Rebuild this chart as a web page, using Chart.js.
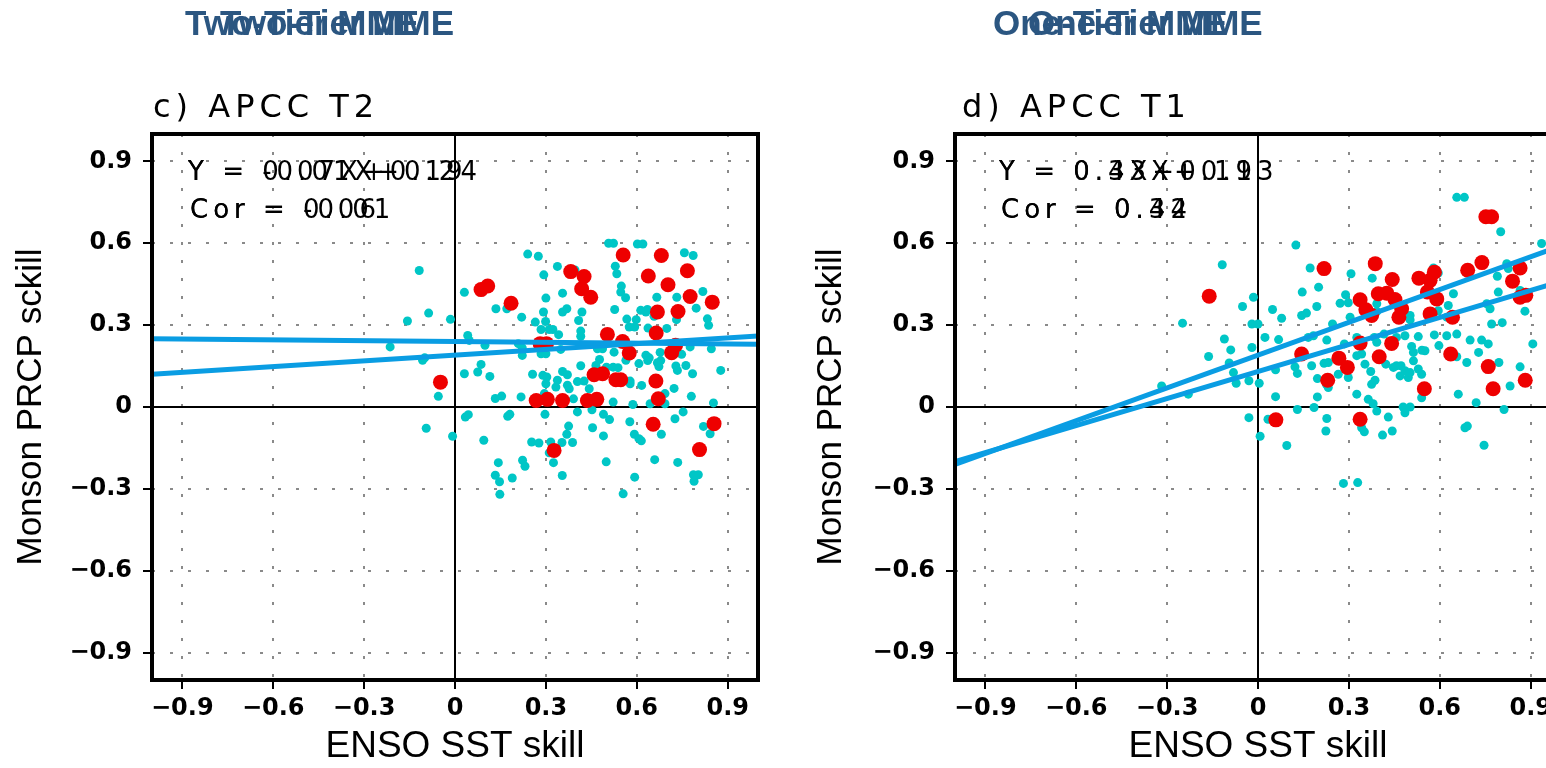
<!DOCTYPE html>
<html>
<head>
<meta charset="utf-8">
<script src="https://cdn.jsdelivr.net/npm/chart.js@4.4.0/dist/chart.umd.min.js"></script>
<style>
  html, body { margin: 0; padding: 0; background: #fff; overflow: hidden; width: 1546px; height: 768px; }
  .panel { position: absolute; top: 0; width: 800px; height: 768px; }
  #wrapC { left: 0; }
  #wrapD { left: 800px; }
</style>
</head>
<body>
<div id="wrapC" class="panel"><canvas id="chartC" width="800" height="768"></canvas></div>
<div id="wrapD" class="panel"><canvas id="chartD" width="800" height="768"></canvas></div>
<script>
// axis ticks (same on x and y)
const tickValues = [-0.9, -0.6, -0.3, 0, 0.3, 0.6, 0.9];
const tickLabels = ['\u22120.9', '\u22120.6', '\u22120.3', '0', '0.3', '0.6', '0.9'];

// c) APCC T2 : all models (cyan) and selected models (red), [ENSO SST skill, PRCP skill]
const t2Models = [
  [0.507,0.60],[0.523,0.60],[0.602,0.597],[0.62,0.597],[0.24,0.56],[0.275,0.552],[0.757,0.565],[0.786,0.555],
  [-0.118,0.50],[0.338,0.515],[0.396,0.502],[0.529,0.516],[0.534,0.488],[0.293,0.484],
  [0.031,0.42],[0.355,0.417],[0.549,0.443],[0.547,0.421],[0.563,0.40],[0.30,0.399],[0.818,0.423],[0.666,0.402],[0.732,0.402],
  [-0.087,0.344],[-0.157,0.315],[-0.015,0.321],[0.135,0.36],[0.171,0.36],[0.292,0.348],[0.355,0.348],[0.369,0.36],[0.419,0.348],
  [0.527,0.357],[0.613,0.354],[0.635,0.357],[0.63,0.348],[0.796,0.362],
  [0.22,0.329],[0.265,0.311],[0.299,0.313],[0.408,0.317],[0.567,0.322],[0.598,0.32],[0.657,0.332],[0.731,0.32],[0.833,0.323],[0.837,0.299],
  [0.575,0.293],[0.593,0.293],[0.284,0.284],[0.311,0.284],[0.323,0.284],[0.415,0.278],[0.415,0.259],[0.342,0.265],[0.637,0.289],[0.699,0.288],
  [0.042,0.262],[0.047,0.244],[-0.214,0.22],[0.099,0.226],[0.209,0.232],[0.222,0.216],[0.222,0.189],[0.284,0.195],[0.30,0.195],
  [0.349,0.211],[0.47,0.213],[0.487,0.213],[0.525,0.201],[0.63,0.19],[0.641,0.18],[0.636,0.17],[0.677,0.2],[0.679,0.17],
  [0.776,0.22],[0.846,0.213],[0.748,0.193],
  [-0.107,0.171],[-0.1,0.18],[0.086,0.156],[0.477,0.174],[0.465,0.152],[0.415,0.151],[0.5,0.146],[0.522,0.146],[0.538,0.144],
  [0.564,0.171],[0.607,0.159],[0.668,0.162],[0.673,0.148],[0.729,0.15],[0.734,0.134],[0.762,0.152],[0.784,0.122],[0.877,0.134],
  [0.031,0.122],[0.075,0.128],[0.115,0.112],[0.256,0.12],[0.29,0.116],[0.303,0.11],[0.355,0.13],[0.371,0.118],
  [0.30,0.085],[0.404,0.093],[0.426,0.095],[0.338,0.098],[0.333,0.073],[0.371,0.08],[0.377,0.067],[0.443,0.067],
  [0.578,0.095],[0.578,0.085],[0.616,0.079],[0.693,0.049],[0.723,0.068],[0.78,0.039],
  [-0.055,0.039],[0.133,0.031],[0.154,0.04],[0.218,0.037],[0.295,0.049],[0.391,0.03],[0.522,0.018],[0.587,0.009],
  [0.644,0.012],[0.693,0.012],[0.853,0.015],
  [0.034,-0.037],[0.044,-0.028],[0.174,-0.034],[0.181,-0.027],[-0.095,-0.078],[-0.008,-0.107],[0.095,-0.122],
  [0.297,-0.027],[0.404,-0.018],[0.452,-0.01],[0.49,-0.027],[0.51,-0.046],[0.577,-0.054],[0.375,-0.07],[0.369,-0.1],
  [0.454,-0.076],[0.49,-0.106],[0.592,-0.1],[0.607,-0.116],[0.615,-0.124],[0.681,-0.1],[0.726,-0.043],[0.753,-0.018],
  [0.82,-0.071],[0.842,-0.098],
  [0.253,-0.128],[0.277,-0.132],[0.316,-0.128],[0.353,-0.13],[0.388,-0.13],
  [0.311,-0.168],[0.143,-0.204],[0.223,-0.195],[0.231,-0.217],[0.325,-0.204],[0.499,-0.201],[0.659,-0.193],[0.735,-0.203],
  [0.133,-0.25],[0.147,-0.274],[0.189,-0.26],[0.354,-0.251],[0.593,-0.257],[0.787,-0.248],[0.803,-0.248],[0.789,-0.272],
  [0.148,-0.32],[0.555,-0.318]
];
const t2Selected = [
  [0.555,0.557],[0.681,0.555],[0.767,0.499],[0.382,0.496],[0.426,0.478],[0.638,0.48],[0.703,0.448],[0.086,0.43],
  [0.108,0.443],[0.418,0.433],[0.448,0.402],[0.776,0.405],[0.849,0.384],[0.185,0.38],[0.668,0.348],[0.736,0.35],
  [0.503,0.266],[0.664,0.271],[0.553,0.24],[0.281,0.232],[0.302,0.232],[0.575,0.198],[0.728,0.226],[0.715,0.199],
  [-0.048,0.091],[0.459,0.118],[0.487,0.122],[0.531,0.1],[0.547,0.1],[0.663,0.095],[0.671,0.03],[0.268,0.024],
  [0.305,0.028],[0.355,0.024],[0.437,0.024],[0.468,0.028],[0.654,-0.063],[0.855,-0.061],[0.327,-0.159],[0.807,-0.156]
];
// regression fits: [all models, selected models]
const t2Slope = [-0.01, 0.07];
const t2Intercept = [0.24, 0.19];
const t2Cor = ['-0.01', '0.06'];

// d) APCC T1
const t1Models = [
  [0.656,0.768],[0.681,0.768],[0.801,0.642],[0.936,0.599],[0.125,0.593],[-0.118,0.521],[0.172,0.509],[0.307,0.488],
  [0.377,0.472],[0.579,0.509],[0.595,0.491],[0.821,0.525],[0.826,0.507],[0.79,0.479],
  [0.2,0.439],[0.146,0.421],[0.289,0.411],[0.298,0.382],[0.144,0.335],[0.16,0.344],[-0.051,0.368],[-0.015,0.402],
  [0.078,0.325],[0.048,0.357],[0.194,0.368],[0.271,0.38],[0.304,0.329],[0.392,0.378],[0.392,0.35],[0.645,0.415],
  [0.628,0.372],[0.595,0.353],[0.502,0.335],[0.623,0.329],[0.793,0.421],[0.865,0.427],[0.881,0.351],[0.755,0.378],[0.766,0.36],
  [-0.249,0.307],[-0.02,0.304],[0.0,0.304],[0.246,0.304],[0.502,0.319],[0.771,0.304],[0.806,0.309],
  [-0.111,0.249],[-0.163,0.185],[-0.09,0.209],[-0.02,0.218],[0.023,0.255],[0.068,0.247],[0.166,0.255],[0.183,0.261],
  [0.227,0.245],[0.285,0.231],[0.326,0.255],[0.384,0.255],[0.392,0.237],[0.416,0.267],[0.457,0.255],[0.485,0.261],
  [0.529,0.258],[0.507,0.222],[0.513,0.2],[0.551,0.206],[0.541,0.208],[0.582,0.264],[0.597,0.225],[0.623,0.261],
  [0.656,0.267],[0.7,0.245],[0.728,0.2],[0.738,0.245],[0.76,0.231],[0.795,0.163],[0.907,0.231],[0.865,0.147],
  [-0.095,0.161],[-0.081,0.126],[-0.072,0.087],[-0.03,0.096],[0.004,0.087],[-0.23,0.047],[0.058,0.136],[0.058,0.038],
  [0.122,0.147],[0.13,0.123],[0.177,0.151],[0.196,0.104],[0.196,0.037],[0.218,0.16],[0.232,0.163],[0.227,0.081],
  [0.232,0.071],[0.265,0.12],[0.298,0.108],[0.326,0.188],[0.342,0.194],[0.353,0.157],[0.372,0.13],[0.386,0.098],
  [0.375,0.083],[0.422,0.157],[0.447,0.145],[0.457,0.151],[0.472,0.151],[0.469,0.114],[0.496,0.108],[0.485,0.133],
  [0.502,0.126],[0.513,0.169],[0.529,0.139],[0.54,0.12],
  [0.326,0.047],[0.364,0.028],[0.38,0.012],[0.392,-0.015],[0.43,-0.037],[0.479,0.0],[0.502,0.0],[0.485,-0.021],
  [0.54,0.034],[0.661,0.047],[0.72,0.016],[0.832,0.077],[0.689,0.163],[0.656,0.184],[0.812,-0.009],[0.13,-0.009],
  [0.185,-0.002],[-0.03,-0.039],[0.033,-0.045],[0.227,-0.042],
  [0.224,-0.088],[0.342,-0.076],[0.351,-0.091],[0.411,-0.103],[0.443,-0.088],[0.683,-0.076],[0.691,-0.07],[0.007,-0.107],
  [0.095,-0.141],[0.746,-0.14],[0.282,-0.28],[0.329,-0.277],[-0.318,0.077]
];
const t1Selected = [
  [0.752,0.697],[0.771,0.697],[-0.161,0.406],[0.218,0.507],[0.387,0.525],[0.443,0.467],[0.531,0.472],[0.582,0.494],
  [0.568,0.464],[0.692,0.501],[0.739,0.529],[0.865,0.509],[0.84,0.461],[0.865,0.402],[0.884,0.409],[0.337,0.393],
  [0.397,0.415],[0.425,0.417],[0.452,0.394],[0.356,0.356],[0.375,0.335],[0.474,0.36],[0.465,0.329],[0.559,0.421],
  [0.59,0.396],[0.568,0.341],[0.642,0.329],[0.144,0.194],[0.337,0.234],[0.441,0.233],[0.4,0.184],[0.267,0.179],
  [0.295,0.145],[0.636,0.194],[0.76,0.148],[0.23,0.098],[0.549,0.067],[0.776,0.067],[0.882,0.098],[0.059,-0.047],
  [0.337,-0.045]
];
const t1Slope = [0.4, 0.33];
const t1Intercept = [0.19, 0.13];
const t1Cor = ['0.42', '0.34'];

const CYAN = '#00c6c6';
const RED = '#ee0000';
const FIT = '#0a9de3';
const HEAD = '#2b5681';
const sans = "'Liberation Sans', Arial, sans-serif";
const wide = "'DejaVu Sans', sans-serif";

const toPts = arr => arr.map(p => ({ x: p[0], y: p[1] }));

// frame around the plot and the solid zero axes
const framePlugin = {
  id: 'frame',
  beforeDatasetsDraw(chart) {
    const { ctx, chartArea: a, scales: { x, y } } = chart;
    ctx.save();
    ctx.strokeStyle = '#000';
    ctx.lineWidth = 2;
    ctx.beginPath();
    const x0 = Math.round(x.getPixelForValue(0));
    const y0 = Math.round(y.getPixelForValue(0));
    ctx.moveTo(x0, a.top); ctx.lineTo(x0, a.bottom);
    ctx.moveTo(a.left, y0); ctx.lineTo(a.right, y0);
    ctx.stroke();
    ctx.restore();
  },
  afterDatasetsDraw(chart) {
    const { ctx, chartArea: a } = chart;
    ctx.save();
    ctx.strokeStyle = '#000';
    ctx.lineWidth = 4;
    ctx.strokeRect(a.left, a.top, a.right - a.left, a.bottom - a.top);
    ctx.restore();
  }
};

// headings, panel label and the fit equations
const textPlugin = {
  id: 'panelText',
  afterDraw(chart, args, o) {
    const ctx = chart.ctx;
    ctx.save();
    ctx.fillStyle = HEAD;
    ctx.font = "bold 35px " + sans;
    ctx.textBaseline = 'middle';
    o.headX.forEach(hx => ctx.fillText(o.head, hx, 25));

    ctx.fillStyle = '#000';
    ctx.textBaseline = 'alphabetic';
    ctx.letterSpacing = '5px';
    ctx.font = "32px " + wide;
    ctx.fillText(o.label, o.labelX, 117);

    ctx.letterSpacing = '5px';
    ctx.font = "26px " + wide;
    for (let i = 0; i < 2; i++) {
      ctx.fillText('Y = ' + o.slope[i] + 'X+' + o.intercept[i], o.eqX, 180);
      ctx.fillText('Cor = ' + o.cor[i], o.eqX + 2, 218);
    }
    ctx.restore();
  }
};

function makePanel(id, cfg) {
  const fitLines = cfg.slope.map((m, i) => ({
    type: 'line',
    data: [-1, 1].map(xv => ({ x: xv, y: m * xv + cfg.intercept[i] })),
    borderColor: FIT,
    borderWidth: 5,
    pointRadius: 0,
    fill: false
  }));
  const tickFont = { family: wide, size: 24, weight: 'bold' };
  const gridColor = c => (c.tick && c.tick.value === 0) ? 'rgba(0,0,0,0)' : '#8a8a8a';
  const setTicks = s => { s.ticks = tickValues.map(v => ({ value: v })); };

  return new Chart(document.getElementById(id), {
    type: 'scatter',
    data: {
      datasets: [
        ...fitLines,
        { data: toPts(cfg.selected), backgroundColor: RED, pointRadius: 7.5, borderWidth: 0 },
        { data: toPts(cfg.models), backgroundColor: CYAN, pointRadius: 4.5, borderWidth: 0 }
      ]
    },
    options: {
      responsive: false,
      animation: false,
      devicePixelRatio: 1,
      layout: { padding: { top: 134, right: cfg.padRight, left: 0, bottom: 0 } },
      plugins: {
        legend: { display: false },
        tooltip: { enabled: false },
        panelText: cfg.text
      },
      scales: {
        x: {
          type: 'linear', min: -1, max: 1,
          afterBuildTicks: setTicks,
          afterFit: s => { s.height = 88; },
          ticks: { callback: (v, i) => tickLabels[i], font: tickFont, color: '#000', padding: 5, maxRotation: 0, autoSkip: false },
          grid: { color: gridColor, lineWidth: 2, tickColor: '#000', tickLength: 9, tickWidth: 2 },
          border: { display: false, dash: [3, 15] },
          title: { display: true, text: 'ENSO SST skill', color: '#000', font: { family: sans, size: 37 }, padding: { top: 0, bottom: -1 } }
        },
        y: {
          type: 'linear', min: -1, max: 1,
          afterBuildTicks: setTicks,
          afterFit: s => { s.width = cfg.yWidth; },
          ticks: { callback: (v, i) => tickLabels[i], font: tickFont, color: '#000', padding: 11, autoSkip: false },
          grid: { color: gridColor, lineWidth: 2, tickColor: '#000', tickLength: 9, tickWidth: 2 },
          border: { display: false, dash: [3, 15] },
          title: { display: true, text: 'Monson PRCP sckill', color: '#000', font: { family: sans, size: 35 }, padding: { top: 10, bottom: 0 } }
        }
      }
    },
    plugins: [framePlugin, textPlugin]
  });
}

makePanel('chartC', {
  models: t2Models, selected: t2Selected, slope: t2Slope, intercept: t2Intercept,
  padRight: 42, yWidth: 152,
  text: { head: 'Two-Tier MME', headX: [185, 220], label: 'c) APCC T2', labelX: 153, eqX: 188,
          slope: t2Slope, intercept: t2Intercept, cor: t2Cor }
});

makePanel('chartD', {
  models: t1Models, selected: t1Selected, slope: t1Slope, intercept: t1Intercept,
  padRight: 39, yWidth: 155,
  text: { head: 'One-Tier MME', headX: [193, 228], label: 'd) APCC T1', labelX: 162, eqX: 199,
          slope: t1Slope, intercept: t1Intercept, cor: t1Cor }
});
</script>
</body>
</html>
